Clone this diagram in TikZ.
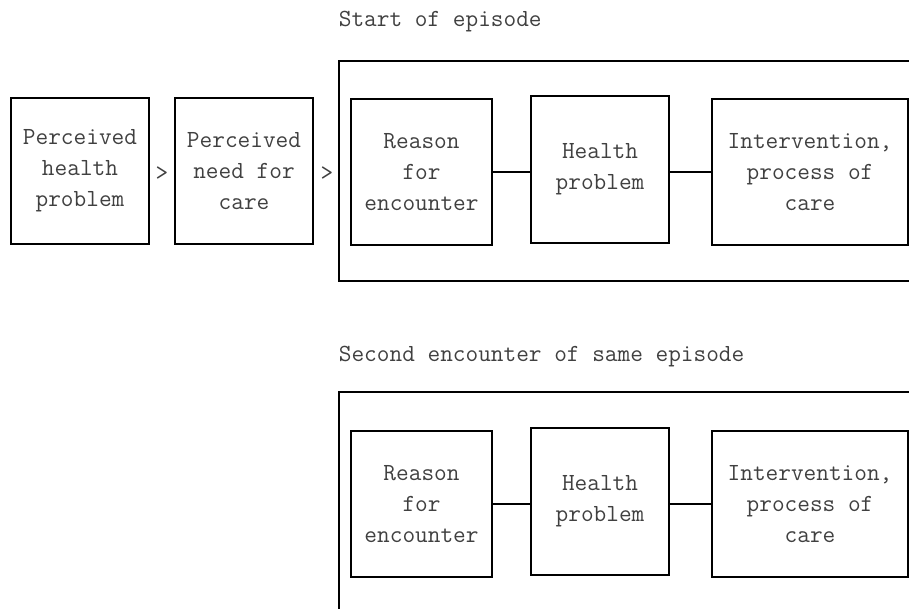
\documentclass[tikz,border=0pt]{standalone}
\usetikzlibrary{positioning}
\tikzset{>=latex}
\tikzset{stagebox/.style={draw, line width=1pt, align=center, inner sep=1pt,
    minimum width=69pt, minimum height=73pt,
    font=\ttfamily\fontsize{12.3}{15.5}\selectfont, text=black!75}}
\tikzset{plain/.style={font=\ttfamily\fontsize{12.3}{15.5}\selectfont, text=black!75, inner sep=0pt}}

\begin{document}
\begin{tikzpicture}[x=0.5pt,y=-0.5pt,line width=0.9pt]
      \clip (0,0) rectangle (909,609);
      % before the episode
      \node[stagebox] (php) at (80,171) {Perceived\\health\\problem};
      \node[stagebox] (pnc) at (244,171) {Perceived\\need for\\care};
      \node[plain] (gt1) at (162,174) {>};
      \node[plain] (gt2) at (327,174) {>};
      % first encounter
      \node[plain,anchor=base west] (lab1) at (338,27) {Start of episode};
      \draw[line width=1pt] (339,61) rectangle (960,281);
      \node[stagebox,minimum width=70.5pt] (rfe1) at (421.5,172) {Reason\\for\\encounter};
      \node[stagebox,minimum height=73.5pt] (hp1) at (600,169.5) {Health\\problem};
      \node[stagebox,minimum width=98pt] (ipc1) at (810,172) {Intervention,\\process of\\care};
      \draw (rfe1.east) -- (rfe1.east -| hp1.west);
      \draw (hp1.east |- ipc1.west) -- (ipc1.west);
      % second encounter
      \node[plain,anchor=base west] (lab2) at (338,361) {Second encounter of same episode};
      \draw[line width=1pt] (339,392) rectangle (960,660);
      \node[stagebox,minimum width=70.5pt] (rfe2) at (421.5,504) {Reason\\for\\encounter};
      \node[stagebox,minimum height=73.5pt] (hp2) at (600,501.5) {Health\\problem};
      \node[stagebox,minimum width=98pt] (ipc2) at (810,504) {Intervention,\\process of\\care};
      \draw (rfe2.east) -- (rfe2.east -| hp2.west);
      \draw (hp2.east |- ipc2.west) -- (ipc2.west);
\end{tikzpicture}
\end{document}
